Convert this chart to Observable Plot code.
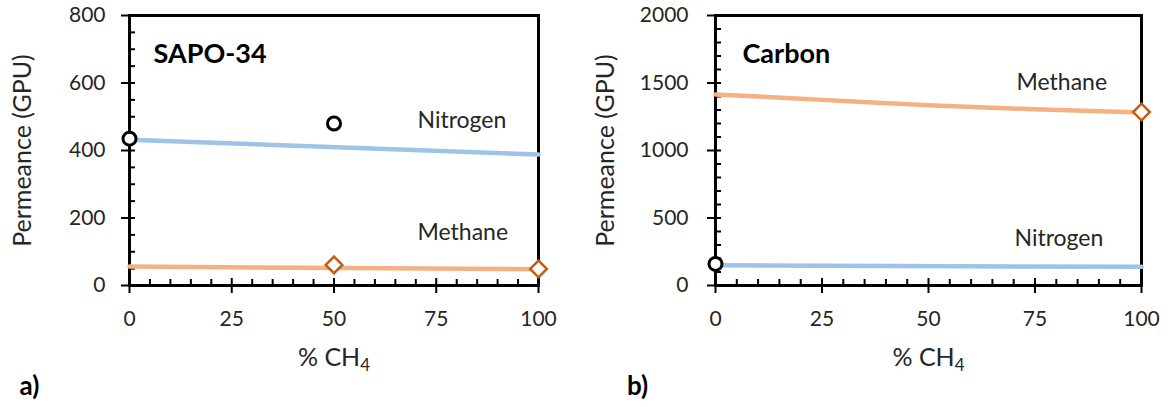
<!DOCTYPE html>
<html><head><meta charset="utf-8">
<script src="https://cdn.jsdelivr.net/npm/d3@7"></script>
<script src="https://cdn.jsdelivr.net/npm/@observablehq/plot@0.6"></script>
<style>
body{margin:0;background:#fff;}
#wrap{position:relative;width:1168px;height:407px;}
#wrap svg{position:absolute;top:0;font-family:Lato,"Open Sans",sans-serif;}
</style></head><body><div id="wrap"></div>
<script>
// ---- data ----
const xTicks = [0, 25, 50, 75, 100];
const xMinorTicks = [5,10,15,20,30,35,40,45,55,60,65,70,80,85,90,95];
const saYTicks = [0, 200, 400, 600, 800];
const saYMinorTicks = [50,100,150,250,300,350,450,500,550,650,700,750];
const caYTicks = [0, 500, 1000, 1500, 2000];
const caYMinorTicks = [100,200,300,400,600,700,800,900,1100,1200,1300,1400,1600,1700,1800,1900];

// SAPO-34 panel
const saNitrogenLineX = [0, 100];
const saNitrogenLineY = [432, 388];
const saNitrogenPtsX = [0, 50];
const saNitrogenPtsY = [435, 480];
const saMethaneLineX = [0, 100];
const saMethaneLineY = [56, 48];
const saMethanePtsX = [50, 100];
const saMethanePtsY = [61, 49];

// Carbon panel
const caMethaneLineX = [0, 10, 25, 50, 75, 100];
const caMethaneLineY = [1415, 1400, 1375, 1335, 1305, 1282];
const caMethanePtsX = [100];
const caMethanePtsY = [1285];
const caNitrogenLineX = [0, 100];
const caNitrogenLineY = [150, 138];
const caNitrogenPtsX = [0];
const caNitrogenPtsY = [160];

const yTitle = "Permeance (GPU)";
const xTitle = "% CH4";

const table = (X, Y) => X.map((x, i) => ({x, y: Y[i]}));
const BLUE = "#9DC3E6", ORANGE = "#F4B183", DIAMOND = "#C55A11", TXT = "#262626";

function panel(o) {
  const H = 407, mT = 15, mB = 122;
  const plotW = o.width - o.mL - o.mR, plotH = H - mT - mB;
  const ux = 100 / plotW, uy = o.yMax / plotH;
  const svg = Plot.plot({
    width: o.width, height: H,
    marginLeft: o.mL, marginRight: o.mR, marginTop: mT, marginBottom: mB,
    x: {domain: [0, 100]},
    y: {domain: [0, o.yMax]},
    marks: [
      Plot.ruleY(o.yMinor, {y: d => d, x1: 0, x2: 6 * ux, stroke: "black", strokeWidth: 2}),
      Plot.ruleY(o.yTicks, {y: d => d, x1: -8 * ux, x2: 6 * ux, stroke: "black", strokeWidth: 2}),
      Plot.ruleX(xMinorTicks, {x: d => d, y1: 0, y2: 6 * uy, stroke: "black", strokeWidth: 2}),
      Plot.ruleX(xTicks, {x: d => d, y1: -8 * uy, y2: 7 * uy, stroke: "black", strokeWidth: 2}),
      Plot.frame({stroke: "black", strokeWidth: 3}),
      Plot.axisY({ticks: o.yTicks, tickSize: 0, tickPadding: o.yPad, tickFormat: d => String(d), fontSize: 21, label: null, fill: TXT}),
      Plot.axisX({ticks: xTicks, tickSize: 0, tickPadding: 26, tickFormat: d => String(d), fontSize: 21, label: null, fill: TXT}),
      ...o.series,
      Plot.text([o.title], {text: d => d, frameAnchor: "top-left", dx: o.titleDx, dy: 47, textAnchor: "start", lineAnchor: "bottom", fontWeight: "bold", fontSize: 27, fill: "black"}),
      ...o.labels.map(l => Plot.text([l.t], {text: d => d, frameAnchor: "top-left", dx: l.dx, dy: l.dy, textAnchor: "start", lineAnchor: "bottom", fontSize: 23, fill: TXT})),
      Plot.text([yTitle], {text: d => d, frameAnchor: "left", dx: o.yTitleDx, rotate: -90, textAnchor: "middle", lineAnchor: "middle", fontSize: 25, fill: TXT}),
      Plot.text([xTitle], {text: d => d, frameAnchor: "bottom", dy: 72, textAnchor: "middle", lineAnchor: "middle", fontSize: 25, fill: TXT}),
      Plot.text([o.tag], {text: d => d, frameAnchor: "bottom-left", dx: o.tagDx, dy: 101, textAnchor: "middle", lineAnchor: "middle", fontSize: 26, fontWeight: "bold", fill: "black"})
    ]
  });
  svg.style.left = o.left + "px";
  d3.select(svg).selectAll("text").filter(function() { return this.textContent === xTitle; })
    .each(function() {
      const t = d3.select(this);
      t.text("% CH");
      t.append("tspan").attr("dy", "0.3em").attr("font-size", "17").text("4");
    });
  return svg;
}

const lineOpts = (c) => ({x: "x", y: "y", stroke: c, strokeWidth: 4.5, curve: "monotone-x"});
const circleOpts = {x: "x", y: "y", r: 6.5, stroke: "black", strokeWidth: 3, fill: "white"};
const diamondOpts = {x: "x", y: "y", symbol: "diamond2", r: 7.5, stroke: DIAMOND, strokeWidth: 2.5, fill: "white"};

const wrap = document.getElementById("wrap");
wrap.appendChild(panel({
  left: 0, width: 584, mL: 129, mR: 46, yMax: 800, yTicks: saYTicks, yMinor: saYMinorTicks, yPad: 24,
  title: "SAPO-34", titleDx: 24, tag: "a)", tagDx: -100, yTitleDx: -107,
  labels: [{t: "Nitrogen", dx: 288, dy: 112}, {t: "Methane", dx: 288, dy: 224}],
  series: [
    Plot.line(table(saNitrogenLineX, saNitrogenLineY), lineOpts(BLUE)),
    Plot.line(table(saMethaneLineX, saMethaneLineY), lineOpts(ORANGE)),
    Plot.dot(table(saNitrogenPtsX, saNitrogenPtsY), circleOpts),
    Plot.dot(table(saMethanePtsX, saMethanePtsY), diamondOpts)
  ]
}));
wrap.appendChild(panel({
  left: 584, width: 584, mL: 131, mR: 27, yMax: 2000, yTicks: caYTicks, yMinor: caYMinorTicks, yPad: 27,
  title: "Carbon", titleDx: 27, tag: "b)", tagDx: -78, yTitleDx: -110,
  labels: [{t: "Methane", dx: 301, dy: 74}, {t: "Nitrogen", dx: 299, dy: 230}],
  series: [
    Plot.line(table(caMethaneLineX, caMethaneLineY), lineOpts(ORANGE)),
    Plot.line(table(caNitrogenLineX, caNitrogenLineY), lineOpts(BLUE)),
    Plot.dot(table(caNitrogenPtsX, caNitrogenPtsY), circleOpts),
    Plot.dot(table(caMethanePtsX, caMethanePtsY), diamondOpts)
  ]
}));
</script></body></html>
